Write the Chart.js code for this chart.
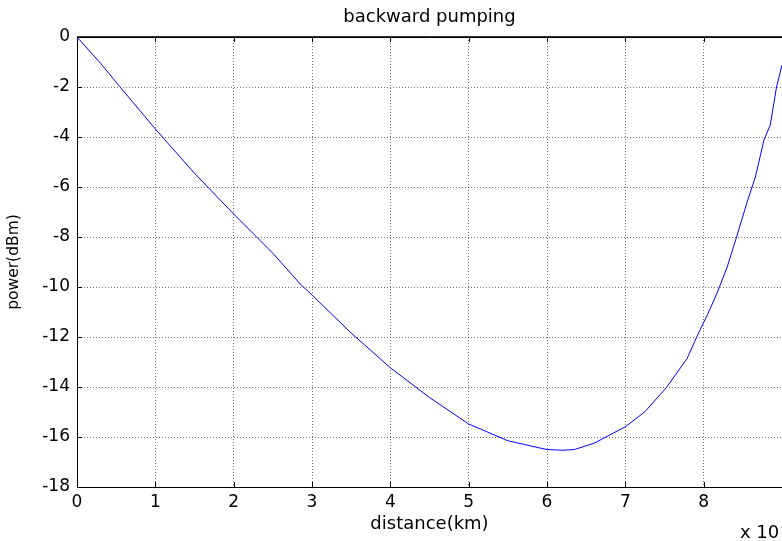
<!DOCTYPE html>
<html lang="en">
<head>
  <meta charset="UTF-8" />
  <title>backward pumping</title>
  <script src="https://cdn.jsdelivr.net/npm/chart.js"></script>
  <style>
    body { margin: 0; background: #fff; }
    #wrap { width: 782px; height: 541px; }
  </style>
</head>
<body>
  <div id="wrap"><canvas id="power" width="782" height="541"></canvas></div>

  <script>
    // distance in units of 1e4 km, power in dBm
    const distance = [0, 0.3, 0.55, 1, 1.5, 2, 2.5, 2.85, 3, 3.5, 4, 4.5, 5, 5.15, 5.5, 5.91, 6, 6.2, 6.35, 6.6,
                      7, 7.25, 7.53, 7.79, 7.94, 8.05, 8.17, 8.3, 8.42, 8.55, 8.66, 8.77, 8.85, 8.93, 9.0];
    const power = [0, -1.05, -2.0, -3.68, -5.45, -7.08, -8.65, -9.88, -10.32, -11.84, -13.23, -14.42, -15.48, -15.68, -16.15, -16.44, -16.5, -16.53, -16.5, -16.25,
                   -15.59, -14.99, -14.0, -12.85, -11.8, -11.1, -10.25, -9.2, -8.0, -6.65, -5.6, -4.12, -3.52, -2.0, -1.12];
    const xTicks = [0, 1, 2, 3, 4, 5, 6, 7, 8];
    const yTicks = [0, -2, -4, -6, -8, -10, -12, -14, -16, -18];

    const FONT = '"DejaVu Sans", "Liberation Sans", Arial, sans-serif';

    // box top line, inward tick marks and the "x 10^4" exponent label
    const matlabBox = {
      id: 'matlabBox',
      afterDraw(chart) {
        const ctx = chart.ctx, a = chart.chartArea;
        const xs = chart.scales.x, ys = chart.scales.y;
        ctx.save();
        ctx.strokeStyle = '#000';
        ctx.lineWidth = 1;
        ctx.beginPath();
        ctx.moveTo(a.left, a.top + 0.5);
        ctx.lineTo(a.right, a.top + 0.5);
        xTicks.forEach(v => {
          const px = Math.round(xs.getPixelForValue(v)) + 0.5;
          ctx.moveTo(px, a.top); ctx.lineTo(px, a.top + 5);
          ctx.moveTo(px, a.bottom); ctx.lineTo(px, a.bottom - 5);
        });
        yTicks.forEach(v => {
          const py = Math.round(ys.getPixelForValue(v)) + 0.5;
          ctx.moveTo(a.left, py); ctx.lineTo(a.left + 5, py);
        });
        ctx.stroke();
        ctx.strokeStyle = '#333';
        ctx.beginPath();
        ctx.moveTo(a.left, a.top - 0.5);
        ctx.lineTo(a.right, a.top - 0.5);
        ctx.stroke();

        ctx.fillStyle = '#000';
        ctx.font = '18px ' + FONT;
        ctx.textBaseline = 'alphabetic';
        ctx.textAlign = 'left';
        ctx.fillText('x 10', 740, 538);
        ctx.font = '12px ' + FONT;
        ctx.fillText('4', 781, 530);
        ctx.restore();
      }
    };

    new Chart(document.getElementById('power'), {
      type: 'line',
      data: {
        datasets: [{
          data: distance.map((d, i) => ({ x: d, y: power[i] })),
          borderColor: '#0000ff',
          borderWidth: 1,
          pointRadius: 0,
          tension: 0,
          fill: false
        }]
      },
      options: {
        responsive: false,
        animation: false,
        devicePixelRatio: 1,
        layout: { padding: { left: 0, right: 0, top: 0, bottom: 0 } },
        plugins: {
          legend: { display: false },
          tooltip: { enabled: false },
          title: {
            display: true,
            fullSize: false,
            text: 'backward pumping',
            color: '#000',
            font: { family: FONT, size: 18, weight: 'normal' },
            padding: { top: 7, bottom: 8.4 }
          }
        },
        scales: {
          x: {
            type: 'linear',
            min: 0,
            max: 9,
            afterBuildTicks: s => { s.ticks = xTicks.map(v => ({ value: v })); },
            afterFit: s => { s.height = 54; },
            ticks: { color: '#000', font: { family: FONT, size: 17 }, padding: 5, maxRotation: 0 },
            grid: { color: 'rgba(0,0,0,0.55)', drawTicks: false },
            border: { color: '#000', width: 1, dash: [1, 2] },
            title: {
              display: true,
              text: 'distance(km)',
              color: '#000',
              font: { family: FONT, size: 18 },
              padding: { top: 0, bottom: 6 }
            }
          },
          y: {
            type: 'linear',
            min: -18,
            max: 0,
            afterBuildTicks: s => { s.ticks = yTicks.map(v => ({ value: v })); },
            afterFit: s => { s.width = 77; },
            ticks: { color: '#000', font: { family: FONT, size: 17 }, padding: 7 },
            grid: { color: 'rgba(0,0,0,0.55)', drawTicks: false },
            border: { color: '#000', width: 1, dash: [1, 2] },
            title: {
              display: true,
              text: 'power(dBm)',
              color: '#000',
              font: { family: FONT, size: 15.5 },
              padding: { top: 5, bottom: 0 }
            }
          }
        }
      },
      plugins: [matlabBox]
    });
  </script>
</body>
</html>
